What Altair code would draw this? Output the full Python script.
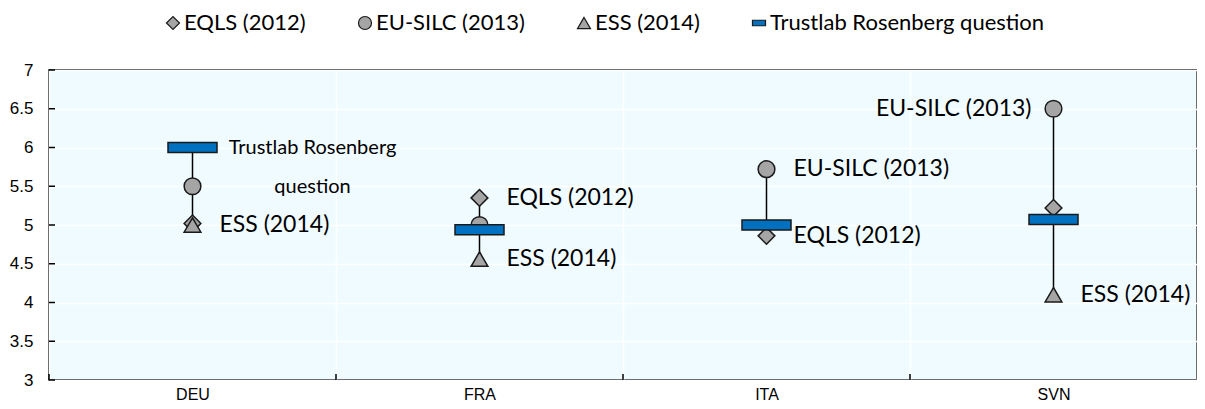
import altair as alt
import pandas as pd

countries = ["DEU", "FRA", "ITA", "SVN"]
series_names = ["EQLS (2012)", "EU-SILC (2013)", "ESS (2014)", "Trustlab Rosenberg question"]
eqls = [5.02, 5.35, 4.86, 5.22]
eusilc = [5.5, 5.0, 5.72, 6.5]
ess = [5.0, 4.56, None, 4.1]
trustlab = [6.0, 4.94, 5.0, 5.07]
y_ticks = [3, 3.5, 4, 4.5, 5, 5.5, 6, 6.5, 7]

# annotation labels: (country, series, side)
label_country = ["DEU", "DEU", "FRA", "FRA", "ITA", "ITA", "SVN", "SVN"]
label_series = ["Trustlab Rosenberg question", "ESS (2014)", "EQLS (2012)", "ESS (2014)",
                "EU-SILC (2013)", "EQLS (2012)", "EU-SILC (2013)", "ESS (2014)"]
label_side = ["block", "right", "right", "right", "right", "right", "left", "right"]

rows = []
for i, c in enumerate(countries):
    for s, vals in zip(series_names, [eqls, eusilc, ess, trustlab]):
        if vals[i] is None:
            continue
        rows.append({"country": c, "series": s, "value": vals[i]})
df = pd.DataFrame(rows)

lab = pd.DataFrame({"country": label_country, "series": label_series, "side": label_side})
lab = lab.merge(df, on=["country", "series"], how="left")
lab["text"] = lab["series"]
lab.loc[lab["side"] == "block", "text"] = "Trustlab Rosenberg\nquestion"

ytick_df = pd.DataFrame({"value": y_ticks})

W, H = 1148, 310
GRAY = "#A5A5A5"
BLUE = "#0070C0"
EDGE = "#1a1a1a"
LABEL_FONT = "Lato"
AXIS_FONT = "Liberation Sans"

x_axis = alt.Axis(tickBand="extent", grid=True, gridColor="white", gridWidth=1.5,
                  ticks=False, domain=False, labelAngle=0, labelFont=AXIS_FONT,
                  labelFontSize=16, labelColor="black", labelPadding=6)
y_axis = alt.Axis(values=y_ticks, format="~g", grid=True, gridColor="white", gridWidth=1.5,
                  domain=False, ticks=False, labelOverlap=False, labelFont=AXIS_FONT,
                  labelFontSize=17, labelColor="black", labelPadding=16)

xscale = alt.Scale(domain=countries, paddingInner=0, paddingOuter=0)
yscale = alt.Scale(domain=[3, 7], nice=False, zero=False)

def X():
    return alt.X("country:N", scale=xscale, title=None, axis=x_axis)

def Y(field="value:Q"):
    return alt.Y(field, scale=yscale, title=None, axis=y_axis)

fill_scale = alt.Scale(domain=series_names, range=[GRAY, GRAY, GRAY, BLUE])
stroke_scale = alt.Scale(domain=series_names, range=[EDGE, EDGE, EDGE, EDGE])
shape_scale = alt.Scale(domain=series_names,
                        range=["diamond", "circle", "triangle-up", "M-1,-0.42L1,-0.42L1,0.42L-1,0.42Z"])
legend = alt.Legend(title=None, orient="none", legendX=113, legendY=-58, direction="horizontal",
                    columns=4, columnPadding=48, labelFont=LABEL_FONT, labelFontSize=22,
                    labelColor="black", labelLimit=500, symbolSize=170,
                    symbolStrokeWidth=1.2, labelOffset=0)

base = alt.Chart(df)

rng = base.mark_rule(color="black", strokeWidth=1.5).encode(
    x=X(), y=Y("min(value):Q"), y2="max(value):Q")

pts = base.transform_filter(alt.datum.series != "Trustlab Rosenberg question").mark_point(
    filled=True, size=280, strokeWidth=1.5, opacity=1).encode(
    x=X(), y=Y(),
    fill=alt.Fill("series:N", scale=fill_scale, legend=legend),
    stroke=alt.Stroke("series:N", scale=stroke_scale, legend=legend),
    shape=alt.Shape("series:N", scale=shape_scale, legend=legend),
)

bar = base.transform_filter(alt.datum.series == "Trustlab Rosenberg question").mark_tick(
    orient="horizontal", size=49, thickness=10, strokeWidth=1.5, opacity=1).encode(
    x=X(), y=Y(),
    fill=alt.Fill("series:N", scale=fill_scale, legend=legend),
    stroke=alt.Stroke("series:N", scale=stroke_scale, legend=legend),
)

# small inward ticks on the x axis (category boundaries) and y axis
xticks_in = base.transform_filter(alt.datum.series == "Trustlab Rosenberg question").mark_rule(
    color="black", strokeWidth=1.5).encode(
    x=alt.X("country:N", scale=xscale, bandPosition=0, axis=x_axis, title=None),
    y=alt.value(H), y2=alt.value(H - 6))
yticks_in = alt.Chart(ytick_df).mark_rule(color="black", strokeWidth=1.5).encode(
    y=Y(), x=alt.value(0), x2=alt.value(6))

lab_base = alt.Chart(lab)
txt_r = lab_base.transform_filter(alt.datum.side == "right").mark_text(
    align="left", baseline="middle", dx=27, font=LABEL_FONT, fontSize=23, color="black").encode(
    x=X(), y=Y(), text="text:N")
txt_l = lab_base.transform_filter(alt.datum.side == "left").mark_text(
    align="right", baseline="middle", dx=-22, font=LABEL_FONT, fontSize=23, color="black").encode(
    x=X(), y=Y(), text="text:N")
txt_b = lab_base.transform_filter(alt.datum.side == "block").mark_text(
    align="center", baseline="middle", dx=120, dy=0, lineBreak="\n", lineHeight=39,
    font=LABEL_FONT, fontSize=20, color="black").encode(
    x=X(), y=Y(), text="text:N")

chart = alt.layer(rng, pts, bar, xticks_in, yticks_in, txt_r, txt_l, txt_b).properties(
    width=W, height=H,
    autosize=alt.AutoSizeParams(type="none"),
    padding={"left": 41, "top": 62, "right": 0, "bottom": 21},
).configure(
    background="white",
    view=alt.ViewConfig(fill="#EFFBFF", stroke="black", strokeWidth=1.5),
)

chart.save("out.html", embed_options={"renderer": "svg", "actions": False})
